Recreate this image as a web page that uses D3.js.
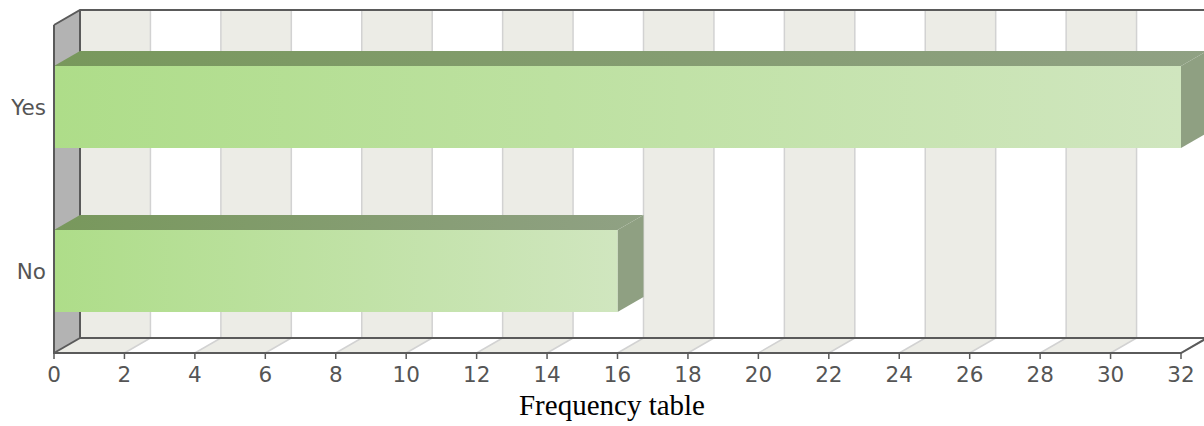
<!DOCTYPE html>
<html>
<head>
<meta charset="utf-8">
<script src="https://cdn.jsdelivr.net/npm/d3@7"></script>
<style>
  body { margin: 0; background: #fff; }
  svg { display: block; }
  .tick-label { font-family: "DejaVu Sans", sans-serif; font-size: 21.5px; fill: #555; }
  .title { font-family: "Liberation Serif", "Times New Roman", serif; font-size: 29px; fill: #000; }
</style>
</head>
<body>
<svg width="1204" height="426"></svg>
<script>
var categories = ["Yes", "No"],
    values = [32, 16],
    xTicks = [0, 2, 4, 6, 8, 10, 12, 14, 16, 18, 20, 22, 24, 26, 28, 30, 32],
    title = "Frequency table";

var svg = d3.select("svg"),
    pLeft = 54, pRight = 1181, pTop = 25, pBottom = 353,
    dx = 26, dy = 15;   // depth offset of the 3D back plane

var x = d3.scaleLinear()
    .domain([0, 32])
    .range([pLeft, pRight]);

var y = d3.scaleBand()
    .domain(categories)
    .range([pTop, pBottom])
    .paddingInner(0.5)
    .paddingOuter(0.25);

var defs = svg.append("defs");
var front = defs.append("linearGradient").attr("id", "gFront");
front.append("stop").attr("offset", "0%").attr("stop-color", "#aedd89");
front.append("stop").attr("offset", "100%").attr("stop-color", "#d0e6bf");
var topG = defs.append("linearGradient").attr("id", "gTop");
topG.append("stop").attr("offset", "0%").attr("stop-color", "#78985c");
topG.append("stop").attr("offset", "100%").attr("stop-color", "#90a184");

var poly = function(pts) { return "M" + pts.map(p => p.join(",")).join("L") + "Z"; };

// back wall bands
var bands = xTicks.slice(0, -1).map((t, i) => ({a: t, b: xTicks[i + 1], i: i}));
svg.append("g").selectAll("rect")
  .data(bands.filter(d => d.i % 2 == 0))
  .enter().append("rect")
    .attr("x", d => x(d.a) + dx)
    .attr("y", pTop - dy)
    .attr("width", d => x(d.b) - x(d.a))
    .attr("height", pBottom - pTop)
    .attr("fill", "#ecece6");

// floor bands
svg.append("g").selectAll("path")
  .data(bands.filter(d => d.i % 2 == 0))
  .enter().append("path")
    .attr("d", d => poly([[x(d.a), pBottom], [x(d.b), pBottom], [x(d.b) + dx, pBottom - dy], [x(d.a) + dx, pBottom - dy]]))
    .attr("fill", "#ecece6");

// grid lines on wall and floor
svg.append("g").selectAll("path")
  .data(xTicks.slice(1))
  .enter().append("path")
    .attr("d", d => "M" + x(d) + "," + pBottom + "L" + (x(d) + dx) + "," + (pBottom - dy) + "L" + (x(d) + dx) + "," + (pTop - dy))
    .attr("fill", "none")
    .attr("stroke", "#d2d2d2")
    .attr("stroke-width", 1.5);

// left wall
svg.append("path")
    .attr("d", poly([[pLeft, pTop], [pLeft + dx, pTop - dy], [pLeft + dx, pBottom - dy], [pLeft, pBottom]]))
    .attr("fill", "#b3b3b3");

// back outlines
var outline = svg.append("g")
    .attr("fill", "none")
    .attr("stroke", "#5a5a5a")
    .attr("stroke-width", 2);
outline.append("path")
    .attr("d", "M" + pLeft + "," + pTop + "L" + (pLeft + dx) + "," + (pTop - dy) + "L" + (pRight + dx + 10) + "," + (pTop - dy));
outline.append("path")
    .attr("d", "M" + (pLeft + dx) + "," + (pTop - dy) + "L" + (pLeft + dx) + "," + (pBottom - dy) + "L" + (pRight + dx) + "," + (pBottom - dy));
outline.append("path")
    .attr("d", "M" + pLeft + "," + pBottom + "L" + (pLeft + dx) + "," + (pBottom - dy));

// bars
var bars = svg.append("g").selectAll("g")
  .data(categories.map((c, i) => ({c: c, v: values[i]})))
  .enter().append("g");

bars.append("path")
    .attr("d", d => poly([[x(0), y(d.c)], [x(0) + dx, y(d.c) - dy], [x(d.v) + dx, y(d.c) - dy], [x(d.v), y(d.c)]]))
    .attr("fill", "url(#gTop)");
bars.append("path")
    .attr("d", d => poly([[x(d.v), y(d.c)], [x(d.v) + dx, y(d.c) - dy], [x(d.v) + dx, y(d.c) + y.bandwidth() - dy], [x(d.v), y(d.c) + y.bandwidth()]]))
    .attr("fill", "#8fa082");
bars.append("rect")
    .attr("x", x(0))
    .attr("y", d => y(d.c))
    .attr("width", d => x(d.v) - x(0))
    .attr("height", y.bandwidth())
    .attr("fill", "url(#gFront)");

// front axis lines
svg.append("path")
    .attr("d", "M" + pLeft + "," + pTop + "L" + pLeft + "," + pBottom + "L" + pRight + "," + pBottom + "L" + (pRight + dx) + "," + (pBottom - dy))
    .attr("fill", "none")
    .attr("stroke", "#5a5a5a")
    .attr("stroke-width", 2);

// x axis ticks and labels
var xt = svg.append("g").selectAll("g")
  .data(xTicks)
  .enter().append("g")
    .attr("transform", d => "translate(" + x(d) + "," + pBottom + ")");
xt.append("line")
    .attr("y2", 6)
    .attr("stroke", "#5a5a5a")
    .attr("stroke-width", 1.5);
xt.append("text")
    .attr("class", "tick-label")
    .attr("y", 29)
    .attr("text-anchor", "middle")
    .text(d => d);

// category labels
svg.append("g").selectAll("text")
  .data(categories)
  .enter().append("text")
    .attr("class", "tick-label")
    .attr("x", pLeft - 8)
    .attr("y", d => y(d) + y.bandwidth() / 2 + 8)
    .attr("text-anchor", "end")
    .text(d => d);

svg.append("text")
    .attr("class", "title")
    .attr("x", 612)
    .attr("y", 415)
    .attr("text-anchor", "middle")
    .text(title);
</script>
</body>
</html>
